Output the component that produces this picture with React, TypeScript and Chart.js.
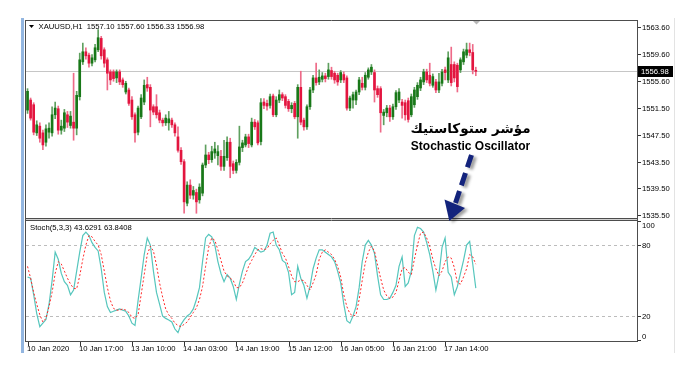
import React, { useEffect, useRef } from 'react';
import { Chart, registerables } from 'chart.js';

Chart.register(...registerables);

// ---------- DATA ----------
const openP = [
  1551.2, 1552.7, 1552.0, 1547.8, 1548.8, 1547.8, 1546.4, 1547.9, 1547.8, 1550.5,
  1551.4, 1548.2, 1548.5, 1550.5, 1548.9, 1549.4, 1548.5, 1553.2, 1558.4, 1559.9,
  1559.4, 1558.2, 1558.7, 1560.2, 1561.9, 1560.2, 1558.7, 1556.9, 1556.9, 1556.0,
  1556.9, 1555.7, 1553.9, 1554.2, 1552.7, 1550.5, 1547.9, 1550.2, 1552.4, 1555.0,
  1554.6, 1551.7, 1551.7, 1550.8, 1549.7, 1549.3, 1549.3, 1549.7, 1549.0, 1547.2,
  1545.2, 1543.5, 1537.3, 1540.0, 1538.5, 1538.9, 1537.8, 1538.8, 1543.0, 1544.5,
  1543.8, 1544.8, 1544.4, 1544.3, 1542.8, 1544.1, 1546.4, 1543.2, 1542.2, 1543.4,
  1545.6, 1546.0, 1547.2, 1546.0, 1549.4, 1549.3, 1546.5, 1552.4, 1552.2, 1551.9,
  1553.3, 1550.5, 1552.7, 1553.5, 1553.2, 1552.5, 1551.4, 1552.2, 1550.2, 1554.6,
  1549.7, 1548.7, 1551.7, 1554.2, 1556.0, 1555.4, 1555.8, 1556.3, 1556.2, 1557.1,
  1556.7, 1556.4, 1555.7, 1556.5, 1556.0, 1551.5, 1552.7, 1552.7, 1553.9, 1555.2,
  1554.6, 1556.1, 1556.9, 1556.8, 1554.4, 1554.4, 1550.4, 1550.8, 1551.5, 1550.2,
  1551.7, 1552.7, 1552.4, 1552.3, 1552.6, 1550.5, 1552.0, 1553.2, 1554.5, 1555.4,
  1556.9, 1556.4, 1554.9, 1555.4, 1554.2, 1555.2, 1557.2, 1555.7, 1558.0, 1558.0,
  1557.9, 1557.2, 1558.4, 1559.4, 1560.2, 1559.8, 1557.1
];
const highP = [
  1554.4, 1553.0, 1552.3, 1549.6, 1549.3, 1548.2, 1549.0, 1549.3, 1551.7, 1552.4,
  1551.8, 1549.7, 1551.3, 1551.0, 1551.0, 1556.7, 1554.0, 1559.7, 1561.2, 1560.5,
  1559.7, 1559.5, 1561.0, 1563.2, 1562.2, 1560.5, 1559.0, 1557.2, 1557.2, 1557.2,
  1557.2, 1556.0, 1555.5, 1554.5, 1553.2, 1550.8, 1551.8, 1553.5, 1555.7, 1556.1,
  1555.0, 1552.0, 1553.5, 1551.2, 1550.0, 1550.5, 1551.0, 1550.0, 1549.3, 1548.7,
  1545.6, 1543.8, 1540.5, 1540.8, 1539.8, 1539.4, 1540.2, 1543.3, 1546.0, 1544.9,
  1545.8, 1546.4, 1545.9, 1545.2, 1546.7, 1547.2, 1547.0, 1543.6, 1543.8, 1548.8,
  1546.7, 1547.6, 1547.6, 1550.0, 1549.8, 1549.6, 1552.9, 1552.9, 1552.7, 1553.6,
  1553.6, 1553.2, 1554.2, 1553.8, 1553.5, 1552.8, 1552.3, 1552.5, 1555.0, 1557.0,
  1550.0, 1552.0, 1554.6, 1556.4, 1558.2, 1557.2, 1556.8, 1556.7, 1558.2, 1557.6,
  1557.0, 1556.7, 1557.1, 1556.9, 1556.3, 1553.3, 1553.9, 1554.2, 1556.1, 1556.1,
  1556.8, 1557.5, 1558.0, 1557.2, 1554.8, 1554.7, 1551.3, 1551.9, 1551.9, 1552.1,
  1554.1, 1554.4, 1552.8, 1552.7, 1553.0, 1553.6, 1554.6, 1555.3, 1556.1, 1557.3,
  1557.3, 1558.2, 1556.6, 1555.8, 1556.7, 1557.3, 1557.6, 1559.9, 1560.6, 1558.4,
  1558.2, 1559.0, 1560.3, 1561.2, 1561.2, 1561.0, 1557.6
];
const lowP = [
  1550.7, 1549.7, 1547.5, 1547.4, 1546.4, 1545.3, 1545.8, 1547.0, 1547.3, 1549.9,
  1547.6, 1547.6, 1548.0, 1548.6, 1548.5, 1546.7, 1547.5, 1552.7, 1558.0, 1558.8,
  1557.6, 1557.8, 1558.4, 1559.9, 1558.8, 1557.6, 1554.2, 1555.0, 1555.5, 1555.3,
  1555.0, 1554.6, 1553.6, 1551.9, 1549.8, 1546.4, 1547.5, 1549.9, 1552.0, 1554.0,
  1548.7, 1550.5, 1550.0, 1549.3, 1548.8, 1548.9, 1548.2, 1548.6, 1547.3, 1544.9,
  1543.1, 1535.8, 1536.9, 1538.0, 1537.9, 1535.8, 1537.3, 1538.4, 1542.6, 1543.2,
  1543.4, 1544.0, 1543.0, 1542.2, 1542.2, 1543.7, 1541.1, 1541.7, 1541.8, 1543.0,
  1545.0, 1545.7, 1545.6, 1545.7, 1548.3, 1546.0, 1546.0, 1551.4, 1551.2, 1551.5,
  1550.2, 1550.2, 1552.3, 1552.6, 1551.5, 1551.0, 1550.8, 1549.9, 1547.0, 1549.0,
  1548.2, 1548.3, 1551.3, 1553.8, 1554.9, 1555.0, 1555.4, 1555.4, 1555.8, 1555.8,
  1555.2, 1554.9, 1555.3, 1555.3, 1551.2, 1551.1, 1551.5, 1552.0, 1553.5, 1554.2,
  1554.2, 1555.8, 1556.5, 1552.4, 1553.1, 1547.9, 1549.0, 1550.2, 1549.5, 1549.8,
  1551.3, 1552.3, 1550.0, 1549.7, 1549.4, 1550.2, 1551.6, 1552.8, 1554.1, 1555.0,
  1555.3, 1554.8, 1554.6, 1553.8, 1553.8, 1554.8, 1555.7, 1555.3, 1554.8, 1555.4,
  1553.9, 1556.8, 1558.0, 1559.0, 1559.3, 1556.6, 1556.33
];
const closeP = [
  1554.0, 1550.0, 1547.9, 1549.0, 1547.0, 1546.0, 1548.4, 1548.5, 1550.5, 1551.5,
  1548.2, 1548.8, 1550.8, 1549.4, 1550.3, 1548.5, 1553.4, 1558.7, 1559.9, 1559.3,
  1558.2, 1559.0, 1560.5, 1562.0, 1559.3, 1558.2, 1556.7, 1555.7, 1555.9, 1556.9,
  1555.4, 1555.0, 1555.2, 1552.2, 1550.2, 1547.8, 1551.5, 1553.0, 1554.9, 1554.5,
  1551.2, 1550.9, 1550.5, 1549.7, 1549.3, 1550.0, 1549.9, 1549.0, 1547.8, 1545.2,
  1543.5, 1537.5, 1540.0, 1538.5, 1539.2, 1537.5, 1539.7, 1543.0, 1544.5, 1543.8,
  1545.0, 1545.4, 1545.0, 1542.8, 1544.3, 1546.4, 1542.8, 1542.2, 1543.4, 1545.7,
  1546.3, 1547.2, 1546.2, 1549.4, 1548.7, 1546.3, 1552.3, 1551.9, 1551.8, 1553.2,
  1550.5, 1552.7, 1553.5, 1553.0, 1551.9, 1551.4, 1551.9, 1550.2, 1554.6, 1549.4,
  1548.7, 1551.7, 1554.2, 1556.0, 1555.3, 1556.1, 1556.3, 1555.9, 1557.2, 1556.2,
  1555.7, 1555.4, 1556.8, 1555.7, 1551.5, 1553.0, 1553.5, 1553.9, 1555.7, 1554.6,
  1556.4, 1557.2, 1557.6, 1554.2, 1553.5, 1550.8, 1550.9, 1551.5, 1550.2, 1551.7,
  1553.8, 1553.9, 1551.9, 1550.5, 1549.8, 1553.2, 1554.2, 1554.9, 1555.7, 1556.9,
  1555.7, 1555.2, 1556.2, 1554.2, 1555.4, 1556.9, 1556.8, 1559.0, 1555.3, 1556.0,
  1554.7, 1558.7, 1559.9, 1560.2, 1559.8, 1557.2, 1556.98
];
const stochK = [
  53, 52, 38, 22, 11, 14, 17, 30, 50, 74,
  68, 56, 49, 46, 38, 42, 58, 74, 88, 91,
  88, 82, 78, 75, 60, 40, 28, 23, 24, 25,
  26, 25, 24, 20, 14, 12, 33, 52, 72, 86,
  80, 58, 40, 30, 20, 18, 16.7, 15, 9, 6,
  13, 17, 20, 22, 26, 34, 44, 66, 86, 89,
  87, 80, 66, 56, 49, 55, 52, 45, 34, 47,
  58, 66, 68, 72, 78, 76, 74, 75, 80, 90,
  91, 80, 76, 67, 65, 57, 38, 40, 62, 52,
  46, 35, 45, 60, 69, 76, 76, 74, 72, 70,
  66, 58, 48, 30, 16, 14, 20, 28, 44, 66,
  80, 84, 80, 73, 54, 38, 34, 34, 35, 40,
  46, 62, 70, 45, 48, 58, 88, 95, 94, 91,
  82, 72, 58, 42, 55, 78, 86, 57, 53, 38,
  45, 56, 67, 80, 83, 64, 43.6291
];
const stochD = [
  62, 52, 40, 30, 21, 15, 18, 28, 40, 56,
  66, 64, 58, 52, 47, 43.5, 43, 54, 68, 80,
  88, 87, 83, 80, 72, 58, 44, 33, 26.5, 25,
  25, 26, 25, 23, 19, 18, 21, 38, 55, 72,
  79, 75, 63, 48, 36, 26, 21, 18, 14, 12,
  11, 13, 15, 19, 23, 27, 34, 45, 62, 78,
  86, 84, 76, 67, 58, 54, 52, 50, 44, 44,
  48, 55, 62, 67, 72, 76, 77, 76, 77, 81,
  84, 86, 80, 73, 69, 62, 54, 49, 49, 50.5,
  50, 46, 42, 48, 55, 68, 74, 76, 74, 72,
  68, 62, 53, 38, 28, 22, 20, 21, 34, 50,
  65, 74, 79, 75, 63, 52, 42, 37, 35, 36,
  40, 50, 60, 61, 57, 55, 68, 80, 90, 91,
  86, 79, 68, 60, 54, 58, 66, 70, 69, 61,
  48, 47, 53, 60, 72, 70, 63.8408
];
const priceTicks = [1563.6, 1559.6, 1555.6, 1551.5, 1547.5, 1543.5, 1539.5, 1535.5];
const stochTicks = [100, 80, 20, 0];
const stochLevels = [80, 20];
const xTickLabels = [
  '10 Jan 2020', '10 Jan 17:00', '13 Jan 10:00', '14 Jan 03:00', '14 Jan 19:00',
  '15 Jan 12:00', '16 Jan 05:00', '16 Jan 21:00', '17 Jan 14:00'
];
const xTickIndex = [0, 17, 34, 51, 68, 85, 102, 119, 136];
const totalSlots = 199;
const lastPrice = 1556.98;
const headerText = 'XAUUSD,H1  1557.10 1557.60 1556.33 1556.98';
const stochText = 'Stoch(5,3,3) 43.6291 63.8408';
const titleAr = 'مؤشر ستوكاستيك';
const titleEn = 'Stochastic Oscillator';

// ---------- STYLE ----------
const UP = '#187818';
const DOWN = '#e3153f';
const UP_WICK = '#5fa05f';
const DOWN_WICK = '#ee6a88';
const SMALL_FONT = "7.7px 'Liberation Sans', Arial, sans-serif";
const FRAME = '#4d4d4d';

const decorPlugin = {
  id: 'mtDecor',
  beforeDatasetsDraw(chart: any) {
    const { ctx, chartArea: a, scales } = chart;
    const yp = scales.yp;
    const ys = scales.ys;
    ctx.save();
    ctx.lineWidth = 1;
    ctx.strokeStyle = '#c6c6c6';
    const ly = Math.round(yp.getPixelForValue(lastPrice)) + 0.5;
    ctx.beginPath();
    ctx.moveTo(a.left, ly);
    ctx.lineTo(a.right, ly);
    ctx.stroke();
    ctx.setLineDash([3, 3]);
    ctx.strokeStyle = '#bcbcbc';
    for (const lv of stochLevels) {
      const y = Math.round(ys.getPixelForValue(lv)) + 0.5;
      ctx.beginPath();
      ctx.moveTo(a.left, y);
      ctx.lineTo(a.right, y);
      ctx.stroke();
    }
    ctx.restore();
  },
  afterDraw(chart: any) {
    const { ctx, chartArea: a, scales } = chart;
    const yp = scales.yp;
    const ys = scales.ys;
    const xs = scales.x;
    ctx.save();

    // left blue stripe and right window edge
    ctx.fillStyle = '#93b6e0';
    ctx.fillRect(21, 18, 3, 335);
    ctx.strokeStyle = '#e3e3e3';
    ctx.lineWidth = 1;
    ctx.beginPath();
    ctx.moveTo(674.5, 18);
    ctx.lineTo(674.5, 353);
    ctx.stroke();

    // panel frames
    const mainBottom = 218.5;
    const stochTop = 220.5;
    ctx.strokeStyle = '#d2d2d2';
    ctx.beginPath();
    ctx.moveTo(a.left, 219.5);
    ctx.lineTo(a.right, 219.5);
    ctx.stroke();
    ctx.strokeStyle = FRAME;
    ctx.beginPath();
    ctx.moveTo(25.5, a.top + 0.5);
    ctx.lineTo(637.5, a.top + 0.5);
    ctx.moveTo(25.5, a.top);
    ctx.lineTo(25.5, a.bottom + 1);
    ctx.moveTo(637.5, a.top);
    ctx.lineTo(637.5, a.bottom + 1);
    ctx.moveTo(25.5, mainBottom);
    ctx.lineTo(637.5, mainBottom);
    ctx.moveTo(25.5, stochTop);
    ctx.lineTo(637.5, stochTop);
    ctx.moveTo(25.5, a.bottom + 0.5);
    ctx.lineTo(637.5, a.bottom + 0.5);
    ctx.stroke();

    // right axis: price
    ctx.font = SMALL_FONT;
    ctx.fillStyle = '#000';
    ctx.textAlign = 'left';
    ctx.textBaseline = 'middle';
    ctx.strokeStyle = '#333';
    for (const v of priceTicks) {
      const y = Math.round(yp.getPixelForValue(v)) + 0.5;
      ctx.beginPath();
      ctx.moveTo(638, y);
      ctx.lineTo(641, y);
      ctx.stroke();
      ctx.fillText(v.toFixed(2), 642, y);
    }
    // right axis: stoch
    const stochLabelShift: Record<number, number> = { 100: 4.5, 0: -4 };
    for (const v of stochTicks) {
      const y = Math.round(ys.getPixelForValue(v)) + 0.5;
      ctx.beginPath();
      ctx.moveTo(638, y);
      ctx.lineTo(641, y);
      ctx.stroke();
      ctx.fillText(String(v), 642, y + (stochLabelShift[v] || 0));
    }

    // current price box
    const cy = yp.getPixelForValue(lastPrice);
    ctx.fillStyle = '#000';
    ctx.fillRect(638, Math.round(cy) - 5, 35, 11);
    ctx.fillStyle = '#fff';
    ctx.fillText(lastPrice.toFixed(2), 641, Math.round(cy) + 0.5);

    // x axis ticks and labels
    ctx.fillStyle = '#000';
    ctx.textBaseline = 'top';
    for (let k = 0; k < xTickIndex.length; k++) {
      const x = Math.round(xs.getPixelForValue(xTickIndex[k])) + 0.5;
      ctx.beginPath();
      ctx.moveTo(x, a.bottom + 1);
      ctx.lineTo(x, a.bottom + 5);
      ctx.stroke();
      ctx.fillText(xTickLabels[k], x - 1.5, a.bottom + 4);
    }

    // header texts
    ctx.textBaseline = 'middle';
    ctx.fillStyle = '#000';
    ctx.beginPath();
    ctx.moveTo(29, 25);
    ctx.lineTo(34, 25);
    ctx.lineTo(31.5, 28);
    ctx.closePath();
    ctx.fill();
    ctx.fillText(headerText, 38.5, 27);
    ctx.fillText(stochText, 30, 227.5);

    // top shift marker
    ctx.fillStyle = '#b8b8b8';
    ctx.beginPath();
    ctx.moveTo(473, 21);
    ctx.lineTo(480, 21);
    ctx.lineTo(476.5, 24.5);
    ctx.closePath();
    ctx.fill();

    // annotation
    ctx.fillStyle = '#000';
    ctx.textAlign = 'center';
    ctx.font = "bold 13.5px 'DejaVu Sans', sans-serif";
    ctx.fillText(titleAr, 470.5, 129);
    ctx.font = "bold 12px 'Liberation Sans', Arial, sans-serif";
    ctx.fillText(titleEn, 470.5, 146.5);

    // arrow with shadow
    ctx.shadowColor = 'rgba(0,0,0,0.38)';
    ctx.shadowBlur = 3;
    ctx.shadowOffsetX = 3;
    ctx.shadowOffsetY = 2;
    ctx.strokeStyle = '#13237c';
    ctx.lineWidth = 5;
    ctx.setLineDash([13, 6]);
    ctx.beginPath();
    ctx.moveTo(471.5, 155);
    ctx.lineTo(455.5, 203);
    ctx.stroke();
    ctx.setLineDash([]);
    ctx.fillStyle = '#13237c';
    ctx.beginPath();
    ctx.moveTo(449.3, 221);
    ctx.lineTo(444.5, 199.5);
    ctx.lineTo(465, 208);
    ctx.closePath();
    ctx.fill();

    ctx.restore();
  }
};

export default function App() {
  const canvasRef = useRef<HTMLCanvasElement | null>(null);

  useEffect(() => {
    const canvas = canvasRef.current;
    if (!canvas) return;
    const labels = Array.from({ length: totalSlots }, (_, i) => String(i));
    const isUp = closeP.map((c, i) => c >= openP[i]);
    const chart = new Chart(canvas, {
      type: 'bar',
      data: {
        labels,
        datasets: [
          {
            type: 'bar',
            label: 'wick',
            data: lowP.map((l, i) => [l, highP[i]]) as any,
            backgroundColor: isUp.map((u) => (u ? UP_WICK : DOWN_WICK)),
            barThickness: 1,
            grouped: false,
            borderWidth: 0,
            yAxisID: 'yp',
            order: 2
          } as any,
          {
            type: 'bar',
            label: 'body',
            data: openP.map((o, i) => [Math.min(o, closeP[i]), Math.max(o, closeP[i])]) as any,
            backgroundColor: isUp.map((u) => (u ? UP : DOWN)),
            barThickness: 2,
            minBarLength: 1,
            grouped: false,
            borderWidth: 0,
            yAxisID: 'yp',
            order: 1
          } as any,
          {
            type: 'line',
            label: '%D',
            data: stochD,
            borderColor: '#ff2a2a',
            borderWidth: 1,
            borderDash: [2, 2],
            pointRadius: 0,
            tension: 0,
            fill: false,
            yAxisID: 'ys',
            order: 0
          } as any,
          {
            type: 'line',
            label: '%K',
            data: stochK,
            borderColor: '#56c6bd',
            borderWidth: 1.2,
            pointRadius: 0,
            tension: 0,
            fill: false,
            yAxisID: 'ys',
            order: 0
          } as any
        ]
      },
      options: {
        animation: false,
        responsive: false,
        events: [],
        layout: { padding: { left: 26, right: 63, top: 20, bottom: 29 } },
        plugins: { legend: { display: false }, tooltip: { enabled: false } },
        scales: {
          x: { type: 'category', display: false, offset: true },
          yp: { type: 'linear', display: false, min: 1516.735, max: 1564.645 },
          ys: { type: 'linear', display: false, min: -1.1, max: 270.25 }
        }
      } as any,
      plugins: [decorPlugin]
    });
    return () => chart.destroy();
  }, []);

  return (
    <div style={{ position: 'absolute', left: 0, top: 0, width: 700, height: 370, background: '#fff' }}>
      <canvas ref={canvasRef} width={700} height={370} style={{ display: 'block' }} />
    </div>
  );
}
